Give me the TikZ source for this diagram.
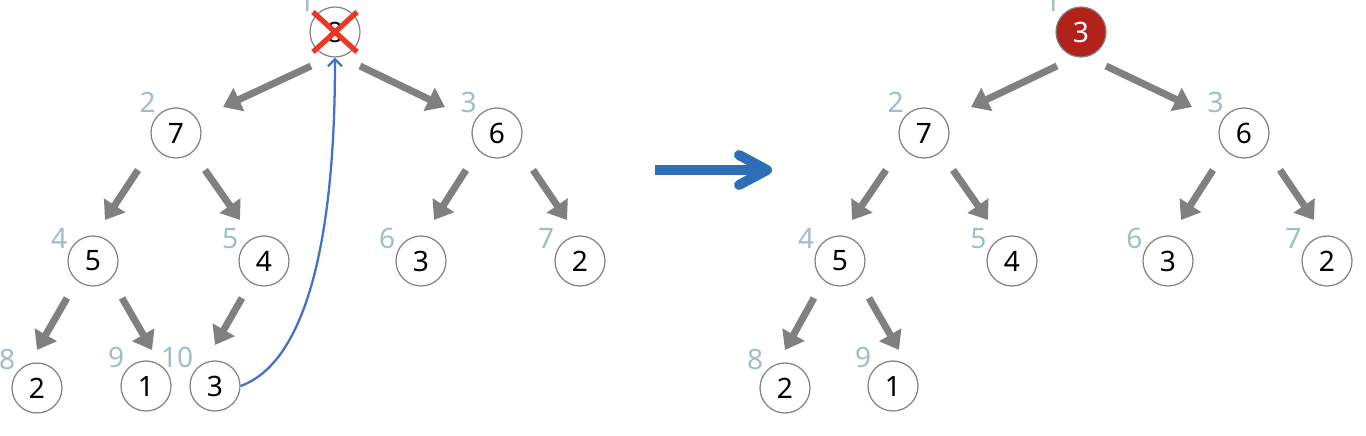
\documentclass[tikz,border=0pt]{standalone}
\usepackage{fontspec}
\setmainfont{Noto Sans}
\usepackage{tikz}
\usetikzlibrary{arrows.meta}
\usepackage{xcolor}
\definecolor{idxgray}{RGB}{160,190,195}
\definecolor{rimgray}{RGB}{130,130,130}
\definecolor{edgegray}{RGB}{128,128,128}
\definecolor{rootred}{RGB}{178,34,27}
\definecolor{crossred}{RGB}{235,55,40}
\definecolor{bigblue}{RGB}{46,109,184}
\definecolor{moveblue}{RGB}{68,114,196}

\begin{document}
\begin{tikzpicture}[
  x=0.02cm, y=-0.02cm,
  heap/.style={circle, draw=rimgray, line width=0.7pt, minimum size=1cm, inner sep=0pt},
  idx/.style={text=idxgray, inner sep=1pt},
  top/.style={heap, fill=rootred, text=white},
  edge/.style={draw=edgegray, line width=4pt, -{Triangle[length=10pt,width=14pt]}},
  cross/.style={draw=crossred, line width=3pt},
  move/.style={draw=moveblue, line width=1.3pt, -{Straight Barb[length=4pt,width=8pt]}},
  swap/.style={draw=bigblue, line width=5.7pt, line cap=butt,
    -{Straight Barb[length=0.56cm,width=0.6cm,line cap=round,round]}}
  ]
  \tikzstyle{every node}=[font=\fontsize{16}{18}\selectfont]
  \useasboundingbox (0,0) rectangle (1366,436);

  % before: heap with the root taken out
  \node[heap, label={[idx]135:1}] (l1) at (335,32) {8};
  \node[heap, label={[idx]135:2}] (l2) at (176,133) {7};
  \node[heap, label={[idx]135:3}] (l3) at (497,133) {6};
  \node[heap, label={[idx]157:4}] (l4) at (93,261) {5};
  \node[heap, label={[idx]157:5}] (l5) at (264,261) {4};
  \node[heap, label={[idx]157:6}] (l6) at (421,261) {3};
  \node[heap, label={[idx]157:7}] (l7) at (580,261) {2};
  \node[heap, label={[idx]140:8}] (l8) at (37,388) {2};
  \node[heap, label={[idx]140:9}] (l9) at (146,386) {1};
  \node[heap, label={[idx]140:10}] (l10) at (215,386) {3};

  \draw[edge] ([shift={(-24,34)}]l1.center) -- ([shift={(47,-26)}]l2.center);
  \draw[edge] ([shift={(25,34)}]l1.center) -- ([shift={(-52,-26)}]l3.center);
  \draw[edge] ([shift={(-38,37)}]l2.center) -- ([shift={(12,-41)}]l4.center);
  \draw[edge] ([shift={(29,37)}]l2.center) -- ([shift={(-24,-41)}]l5.center);
  \draw[edge] ([shift={(-31,37)}]l3.center) -- ([shift={(13,-41)}]l6.center);
  \draw[edge] ([shift={(36,37)}]l3.center) -- ([shift={(-13,-41)}]l7.center);
  \draw[edge] ([shift={(-26,37)}]l4.center) -- ([shift={(0,-38)}]l8.center);
  \draw[edge] ([shift={(29,37)}]l4.center) -- ([shift={(6,-36)}]l9.center);
  \draw[edge] ([shift={(-22,37)}]l5.center) -- ([shift={(0,-41)}]l10.center);

  \draw[cross] ([shift={(-22,-20)}]l1.center) -- ([shift={(22,20)}]l1.center);
  \draw[cross] ([shift={(-22,20)}]l1.center) -- ([shift={(22,-20)}]l1.center);

  \draw[move] (l10.east) to[out=20, in=-90, looseness=0.7] (l1.south);

  % big arrow
  \coordinate (s1) at (655,170);
  \coordinate (s2) at (772,170);
  \draw[swap] (s1) -- (s2);

  % after: last element moved to the root
  \node[top, label={[idx]135:1}] (r1) at (1081,32) {3};
  \node[heap, label={[idx]135:2}] (r2) at (924,133) {7};
  \node[heap, label={[idx]135:3}] (r3) at (1244,133) {6};
  \node[heap, label={[idx]157:4}] (r4) at (840,261) {5};
  \node[heap, label={[idx]157:5}] (r5) at (1012,261) {4};
  \node[heap, label={[idx]157:6}] (r6) at (1168,261) {3};
  \node[heap, label={[idx]157:7}] (r7) at (1327,261) {2};
  \node[heap, label={[idx]140:8}] (r8) at (785,388) {2};
  \node[heap, label={[idx]140:9}] (r9) at (893,386) {1};

  \draw[edge] ([shift={(-24,34)}]r1.center) -- ([shift={(47,-26)}]r2.center);
  \draw[edge] ([shift={(25,34)}]r1.center) -- ([shift={(-52,-26)}]r3.center);
  \draw[edge] ([shift={(-38,37)}]r2.center) -- ([shift={(12,-41)}]r4.center);
  \draw[edge] ([shift={(29,37)}]r2.center) -- ([shift={(-24,-41)}]r5.center);
  \draw[edge] ([shift={(-31,37)}]r3.center) -- ([shift={(13,-41)}]r6.center);
  \draw[edge] ([shift={(36,37)}]r3.center) -- ([shift={(-13,-41)}]r7.center);
  \draw[edge] ([shift={(-26,37)}]r4.center) -- ([shift={(0,-38)}]r8.center);
  \draw[edge] ([shift={(29,37)}]r4.center) -- ([shift={(6,-36)}]r9.center);

\end{tikzpicture}
\end{document}
